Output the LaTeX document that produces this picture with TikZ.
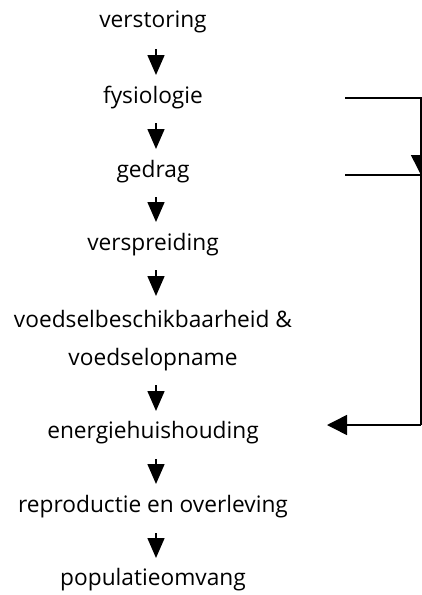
\documentclass[tikz,border=0pt]{standalone}
\usepackage{fontspec}
\setmainfont{Open Sans}
\usetikzlibrary{arrows.meta}
\begin{document}
\begin{tikzpicture}[x=1pt,y=-1pt,
  lbl/.style={inner sep=0pt, align=center, font=\fontsize{22.7}{38}\selectfont},
  flow/.style={line width=1.5pt, -{Triangle[length=20pt,width=17pt]}},
  side/.style={line width=1.5pt, -{Triangle[length=20pt,width=20pt]}},
  feed/.style={line width=1.5pt}]
\useasboundingbox (0,0) rectangle (422,595);
% chain of stages
\node[lbl] (a) at (153,22) {verstoring};
\node[lbl] (b) at (153,98) {fysiologie};
\node[lbl] (c) at (153,172) {gedrag};
\node[lbl] (d) at (153,245) {verspreiding};
\node[lbl] (e) at (153,341) {voedselbeschikbaarheid \&\\voedselopname};
\node[lbl] (f) at (153,433) {energiehuishouding};
\node[lbl] (g) at (153,507) {reproductie en overleving};
\node[lbl] (h) at (153,580) {populatieomvang};
% downward arrows between stages
\foreach \u/\v/\ya/\yb in {a/b/49/75, b/c/123/149, c/d/197/222, d/e/270/296, e/f/385/411, f/g/459/484, g/h/533/558}
  \draw[flow] (156,\ya) -- (156,\yb);
% side path from fysiologie and gedrag back to energiehuishouding
\coordinate (p1) at (345,98);
\coordinate (p2) at (421,98);
\coordinate (q1) at (345,175);
\coordinate (q2) at (421,175);
\coordinate (r1) at (421,425);
\coordinate (r2) at (327,425);
\draw[feed] (p1) -- (p2) -- (r1);
\draw[feed] (q1) -- (q2);
\draw[side] (421,155) -- (q2);
\draw[side] (r1) -- (r2);
\end{tikzpicture}
\end{document}
